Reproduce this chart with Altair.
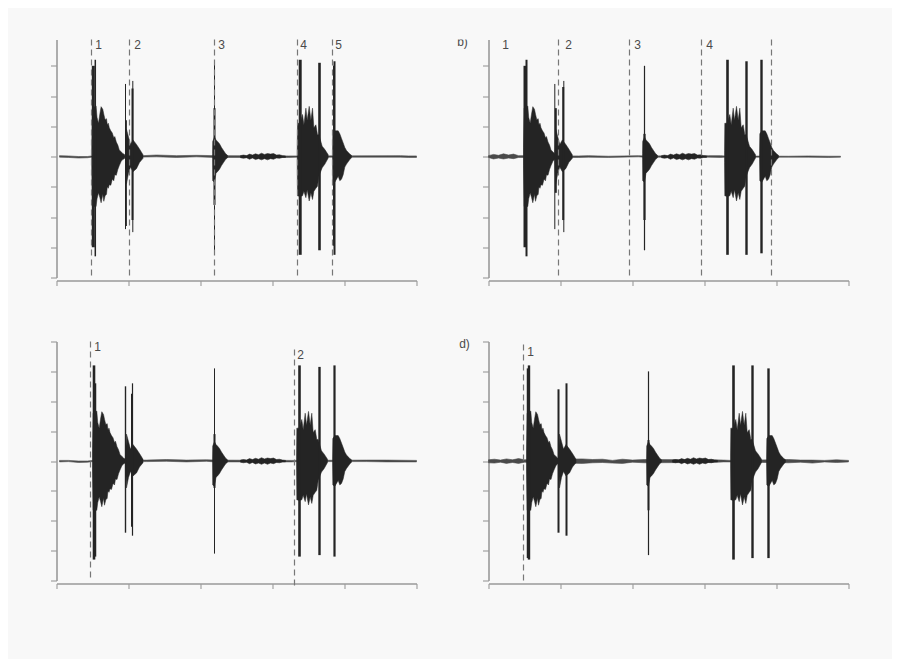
import altair as alt
import pandas as pd

BG = "#f8f8f8"
INK = "#242424"
AXIS = "#9a9a9a"
LABEL = "#4a4a4a"
FONT = "Liberation Sans"

# shapes: offset from each event's onset, upper and lower amplitude
MAIN_T = [0, .6, 4.3, 5.2, 6.7, 8, 9.3, 11, 12, 13.3, 14.7, 15.5, 16.5, 17.5, 19, 20.5, 22, 23, 24.5, 26, 27.5, 29.5, 31, 33]
MAIN_HI = [.3, 1.6, 1.67, 1.3, 1.1, 1.4, 1.65, 1.56, 1.4, 1.22, 1.25, 1.05, 1.1, .95, .85, .78, .62, .66, .48, .38, .22, .15, .1, .06]
MAIN_LO = [-.3, -1.65, -1.65, -1.4, -1.2, -1.35, -1.53, -1.25, -1.48, -1.3, -1.25, -1, -1.05, -.93, -.95, -.75, -.8, -.6, -.62, -.43, -.3, -.15, -.1, -.06]
TAIL2_T = [0, 1, 3, 5, 7.5, 11, 14, 17.5]
TAIL2_HI = [.1, .9, .65, .4, .55, .4, .25, .06]
TAIL2_LO = [-.1, -.9, -.55, -.35, -.5, -.4, -.2, -.06]
BURST3_T = [-2, -1.8, 0, 1.5, 3, 5, 7, 9, 11, 13]
BURST3_HI = [.1, .5, .65, .55, .5, .42, .3, .2, .1, .04]
BURST3_LO = [-.1, -.8, -.85, -.55, -.5, -.42, -.3, -.2, -.1, -.04]
BURST4_T = [0, .3, 2.7, 5.3, 6.7, 8.7, 10, 12, 13.7, 15.3, 16.7, 18.7, 20.3, 21.7, 25, 27.7, 31]
BURST4_HI = [.2, 1.1, 1.1, 1.39, 1.05, 1.6, 1.2, 1.66, 1.2, 1.6, .95, 1.05, .72, .72, .34, .23, .06]
BURST4_LO = [-.2, -1.3, -1.32, -1.3, -1.15, -1.36, -1.1, -1.47, -1.2, -1.42, -1.15, -1.05, -.98, -.65, -.37, -.25, -.05]
BURST6_T = [-2, -1.7, .3, 3.7, 5.3, 7, 8.7, 10.3, 12, 15.3, 17]
BURST6_HI = [.1, .75, .85, .85, .75, .6, .45, .3, .2, .08, .04]
BURST6_LO = [-.1, -.8, -.85, -.65, -.8, -.75, -.6, -.35, -.25, -.1, -.04]
NOISE_T = [0, 3, 6, 9, 12, 15, 18, 21, 24, 27, 30, 33, 36, 39, 42, 45]
NOISE_HI = [.03, .05, .03, .08, .05, .09, .06, .11, .07, .1, .08, .1, .05, .06, .03, .02]
NOISE_LO = [-.04, -.06, -.04, -.09, -.05, -.1, -.07, -.11, -.07, -.11, -.07, -.09, -.05, -.06, -.03, -.03]

# event times in each panel: main, spike 2a, 2b, spike 3, noise start, burst 4, spike 5, spike 6
EVENTS = {
    "a": [35.3, 69, 76.3, 158, 184, 240.7, 263, 278],
    "b": [35, 66.3, 75.3, 156, 173, 236, 258, 273],
    "c": [36, 69, 76, 158, 184, 240, 263, 278],
    "d": [38, 70, 78, 160, 184, 242, 264, 280],
}

# baselines per panel
BASE_X = {
    "a": [3, 12, 22, 31, 35, 80, 100, 120, 140, 158, 232, 240, 344, 352, 360],
    "b": [0, 5, 10, 15, 20, 25, 30, 35, 90, 100, 120, 150, 155, 220, 232, 236, 300, 320, 340, 352],
    "c": [3, 12, 22, 31, 36, 90, 110, 130, 150, 158, 235, 240, 310, 330, 360],
    "d": [0, 6, 12, 18, 24, 30, 36, 94, 104, 114, 124, 134, 144, 156, 210, 222, 235, 242, 300, 312, 324, 336, 348, 360],
}
BASE_HI = {
    "a": [.03, .02, 0, 0, .02, .02, .05, .03, .04, .03, .02, .02, .03, .02, .02],
    "b": [.03, .07, .04, .09, .05, .08, .03, .03, .02, .03, .01, .03, .02, .03, .03, .02, .01, .02, .01, .01],
    "c": [.02, .02, 0, 0, .02, .03, .05, .03, .04, .03, .02, .02, .03, .03, .02],
    "d": [.04, .06, .03, .07, .04, .08, .04, .07, .05, .06, .02, .06, .03, .05, .04, .04, .03, .02, .05, .03, .03, .02, .04, .02],
}
BASE_LO = {
    "a": [-.02, -.03, -.05, -.04, -.02, -.02, -.01, -.03, -.01, -.03, -.03, -.02, -.02, -.03, -.03],
    "b": [-.03, -.08, -.05, -.08, -.05, -.07, -.03, -.03, -.03, -.02, -.03, -.01, -.02, -.02, -.03, -.02, -.02, -.02, -.03, -.02],
    "c": [-.03, -.02, -.05, -.04, -.02, -.02, -.01, -.03, -.01, -.03, -.03, -.02, -.02, -.03, -.03],
    "d": [-.06, -.07, -.04, -.08, -.05, -.08, -.04, -.08, -.06, -.05, -.07, -.08, -.04, -.06, -.05, -.05, -.03, -.03, -.06, -.04, -.07, -.03, -.05, -.03],
}

# spikes per panel: event index, offset, top, bottom, stroke width
SPIKES = {
    "a": [(0, 1.5, 3.0, -3.0, 3), (0, 3.5, 3.2, -3.3, 1.5), (1, 0, 2.4, -2.4, 1), (1, .5, 1.2, -2.3, 1.8),
          (2, 0, 2.5, -2.5, 1), (2, -.3, 2.25, -2.1, 2), (3, 0, 3.05, -3.2, 1), (3, 0, 1.6, -1.6, 2),
          (5, 3, 3.2, -3.25, 3), (6, 0, 3.1, -3.1, 2.6), (7, 0, 3.15, -3.25, 2), (7, -.5, 3.0, -2.95, 2)],
    "b": [(0, 1.5, 3.0, -3.0, 3), (0, 3, 3.2, -3.3, 2), (1, 0, 2.4, -2.4, 1), (1, 1, 1.6, -1.2, 2),
          (2, 0, 2.5, -2.5, 1), (2, -.6, 2.3, -2.1, 2), (3, 0, 3.0, -3.1, 1.2), (3, 0, .75, -2.1, 2.2),
          (5, 3, 3.2, -3.25, 2.6), (6, 0, 3.15, -3.25, 2.4), (7, 0, 3.2, -3.2, 2.4)],
    "c": [(0, 1.5, 3.2, -3.3, 2.6), (0, 3, 2.6, -3.2, 1.5), (1, 0, 2.5, -2.4, 1.4), (2, 0, 2.6, -2.5, 1.2),
          (2, -.5, 2.25, -2.2, 2), (3, 0, 3.1, -3.1, 1), (3, 0, .9, -.9, 2), (5, 3, 3.2, -3.2, 2.6),
          (6, 0, 3.15, -3.15, 2.4), (7, 0, 3.2, -3.2, 2.2)],
    "d": [(0, 1, 3.1, -3.25, 1.5), (0, 2.5, 3.2, -3.3, 2.4), (1, 0, 2.4, -2.4, 2), (2, 0, 2.6, -2.5, 2),
          (3, 0, 3.0, -3.15, 1.2), (3, 0, .7, -1.65, 2), (5, 3, 3.2, -3.3, 2.6), (6, 0, 3.2, -3.25, 2.4),
          (7, 0, 3.1, -3.25, 2.4)],
}

# dashed markers: x, top, bottom
DASHES = {
    "a": [(35, 3.87, -4), (73, 3.87, -4), (158, 3.87, -4), (241, 3.87, -4), (276, 3.87, -4)],
    "b": [(70, 3.87, -4), (141, 3.87, -4), (213, 3.87, -4), (283, 3.87, -4)],
    "c": [(34, 4, -3.93), (238, 3.73, -4.2)],
    "d": [(35, 3.9, -4.07)],
}
# number labels: x, y, text
NUMBERS = {
    "a": [(42, 3.7, "1"), (81, 3.7, "2"), (165, 3.7, "3"), (247, 3.7, "4"), (282, 3.7, "5")],
    "b": [(17, 3.7, "1"), (80, 3.7, "2"), (149, 3.7, "3"), (221, 3.7, "4")],
    "c": [(41, 3.8, "1"), (244, 3.55, "2")],
    "d": [(42, 3.65, "1")],
}
TAGS = {"b": (-26, 3.8, "b)"), "d": (-24, 3.93, "d)")}
MASKS = {"b": (-40, -10, 3.87, 4.05)}
Y_TICKS = {"a": [-4, -3, -2, -1, 0, 1, 2, 3], "b": [-4, -3, -2, -1, 0, 1, 2, 3],
           "c": [-4, -3, -2, -1, 0, 1, 2, 3, 4], "d": [-4, -3, -2, -1, 0, 1, 2, 3, 4]}
Y_TOP = {"a": 3.87, "b": 3.87, "c": 4, "d": 4}
X_TICKS = [0, 72, 144, 216, 288, 360]

SHAPES = [(0, MAIN_T, MAIN_HI, MAIN_LO), (1, TAIL2_T, TAIL2_HI, TAIL2_LO), (3, BURST3_T, BURST3_HI, BURST3_LO),
          (4, NOISE_T, NOISE_HI, NOISE_LO), (5, BURST4_T, BURST4_HI, BURST4_LO), (7, BURST6_T, BURST6_HI, BURST6_LO)]


def panel(key):
    base = pd.DataFrame({"x": BASE_X[key], "hi": BASE_HI[key], "lo": BASE_LO[key]})
    rows = []
    for idx, ts, his, los in SHAPES:
        for t, h, l in zip(ts, his, los):
            rows.append({"g": f"e{idx}", "x": EVENTS[key][idx] + t, "hi": h, "lo": l})
    env = pd.DataFrame(rows)
    spikes = pd.DataFrame([{"x": EVENTS[key][i] + o, "top": t, "bot": b, "w": w} for i, o, t, b, w in SPIKES[key]])
    dashes = pd.DataFrame(DASHES[key], columns=["x", "top", "bot"])
    nums = pd.DataFrame(NUMBERS[key], columns=["x", "y", "t"])

    xs = alt.Scale(domain=[0, 360], nice=False, zero=False)
    ys = alt.Scale(domain=[-4, Y_TOP[key]], nice=False, zero=False)
    xa = alt.Axis(values=X_TICKS, labels=False, title=None, grid=False, offset=3, tickSize=5,
                  domainColor=AXIS, tickColor=AXIS, domainWidth=1.3, tickWidth=1.1)
    ya = alt.Axis(values=Y_TICKS[key], labels=False, title=None, grid=False, tickSize=6,
                  domainColor=AXIS, tickColor=AXIS, domainWidth=1.6, tickWidth=1.1)
    X = alt.X("x:Q", scale=xs, axis=xa)

    def Y(f):
        return alt.Y(f, scale=ys, axis=ya)

    baseline = alt.Chart(base).mark_area(color="#4a4a4a", stroke="#4a4a4a", strokeWidth=0.6).encode(
        x=X, y=Y("hi:Q"), y2="lo:Q")
    areas = alt.Chart(env).mark_area(color=INK, stroke=INK, strokeWidth=0.5).encode(
        x=X, y=Y("hi:Q"), y2="lo:Q", detail="g:N")
    rules = alt.Chart(spikes).mark_rule(color=INK).encode(
        x=X, y=Y("top:Q"), y2="bot:Q", strokeWidth=alt.StrokeWidth("w:Q", scale=None))
    dash = alt.Chart(dashes).mark_rule(color="#777777", strokeWidth=1.2, strokeDash=[6, 4]).encode(
        x=X, y=Y("top:Q"), y2="bot:Q")
    text = alt.Chart(nums).mark_text(font=FONT, fontSize=12, color=LABEL).encode(x=X, y=Y("y:Q"), text="t:N")
    layers = [baseline, areas, rules, dash, text]
    if key in TAGS:
        tag = pd.DataFrame([TAGS[key]], columns=["x", "y", "t"])
        layers.append(alt.Chart(tag).mark_text(font=FONT, fontSize=12, color=LABEL).encode(
            x=X, y=Y("y:Q"), text="t:N"))
    if key in MASKS:
        mask = pd.DataFrame([MASKS[key]], columns=["x", "x2", "y", "y2"])
        layers.append(alt.Chart(mask).mark_rect(color=BG).encode(x=X, x2="x2:Q", y=Y("y:Q"), y2="y2:Q"))
    return alt.layer(*layers).properties(width=360, height=238 if key in "ab" else 239)


chart = alt.concat(panel("a"), panel("b"), panel("c"), panel("d"), columns=2,
                   spacing={"row": 64, "column": 72}, bounds="flush").properties(
    background=BG, padding={"left": 41.5, "top": 25.5, "right": 41, "bottom": 69}
).configure_view(stroke=None)

chart.save("out.html", embed_options={"renderer": "svg", "actions": False})
